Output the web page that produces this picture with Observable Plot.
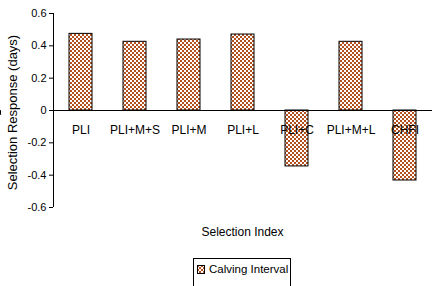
<!DOCTYPE html>
<html>
<head>
<meta charset="utf-8">
<script src="https://cdn.jsdelivr.net/npm/d3@7"></script>
<script src="https://cdn.jsdelivr.net/npm/@observablehq/plot@0.6"></script>
<style>
  body { margin: 0; background: #fff; font-family: "Liberation Sans", Arial, sans-serif; }
  #wrap { position: relative; width: 432px; height: 286px; overflow: hidden; }
  #xtitle { position: absolute; left: 53px; width: 379px; top: 225px; text-align: center; font-size: 12px; color: #000; }
  #legend { position: absolute; left: 193px; top: 258px; width: 98px; height: 30px; border: 1px solid #000; box-sizing: border-box; font-size: 11.5px; }
  #legend svg { position: absolute; left: 3px; top: 6px; }
  #legend span { position: absolute; left: 15px; top: 4px; white-space: nowrap; }
</style>
</head>
<body>
<div id="wrap">
  <div id="chart"></div>
  <div id="xtitle">Selection Index</div>
  <div id="legend"><svg width="8" height="9"><rect x="0.5" y="0.5" width="7" height="8" fill="url(#chkL)" stroke="#000" stroke-width="1"/><defs><pattern id="chkL" patternUnits="userSpaceOnUse" width="4" height="4"><rect width="4" height="4" fill="#fff"/><rect width="2" height="2" fill="#b4501e"/><rect x="2" y="2" width="2" height="2" fill="#b4501e"/></pattern></defs></svg><span>Calving Interval</span></div>
</div>
<script>
const categories = ["PLI", "PLI+M+S", "PLI+M", "PLI+L", "PLI+C", "PLI+M+L", "CHFI"];
const calvingInterval = [0.474, 0.425, 0.439, 0.47, -0.346, 0.425, -0.433];
const yTicks = [-0.6, -0.4, -0.2, 0, 0.2, 0.4, 0.6];
const yTitle = "Selection Response (days)";

const data = categories.map((c, i) => ({category: c, value: calvingInterval[i]}));

function axesLines(index, scales, values, dimensions) {
  const {x, y} = scales;
  const g = d3.create("svg:g").attr("stroke", "#000").attr("stroke-width", 1).attr("fill", "none");
  const left = dimensions.marginLeft;
  const right = dimensions.width - dimensions.marginRight;
  const y0 = Math.round(y(0)) + 0.5;
  g.append("line").attr("x1", left).attr("x2", right).attr("y1", y0).attr("y2", y0);
  g.append("line").attr("x1", left + 0.5).attr("x2", left + 0.5)
    .attr("y1", y(yTicks[yTicks.length - 1])).attr("y2", y(yTicks[0]));
  const step = x(categories[1]) - x(categories[0]);
  for (let i = 1; i < categories.length; i++) {
    const xb = Math.round(x(categories[i]) - (step - x.bandwidth) / 2) + 0.5;
    g.append("line").attr("x1", xb).attr("x2", xb).attr("y1", y0).attr("y2", y0 + 4);
  }
  return g.node();
}

const chart = Plot.plot({
  width: 432,
  height: 212,
  marginTop: 13,
  marginBottom: 5,
  marginLeft: 53,
  marginRight: 0,
  style: {fontFamily: "Liberation Sans, Arial, sans-serif", fontSize: "11px", background: "#fff", overflow: "visible"},
  x: {domain: categories, paddingInner: 0.58, paddingOuter: 0.29, axis: null},
  y: {domain: [-0.6, 0.6]},
  marks: [
    Plot.axisY({
      ticks: yTicks,
      tickSize: 4,
      tickPadding: 3,
      tickFormat: d => d === 0 ? "0" : d.toFixed(1),
      label: null,
      fontSize: 11,
      fill: "#000"
    }),
    Plot.text([yTitle], {frameAnchor: "left", textAnchor: "middle", dx: -41, dy: 2, rotate: -90, text: d => d, fontSize: 13, fill: "#000"}),
    Plot.barY(data, {x: "category", y: "value", fill: "url(#chk)", stroke: "#000", strokeWidth: 1}),
    axesLines,
    Plot.text(categories, {x: d => d, y: () => 0, dy: 20, text: d => d, fontSize: 12, fill: "#000"})
  ]
});

const defs = document.createElementNS("http://www.w3.org/2000/svg", "defs");
defs.innerHTML = '<pattern id="chk" patternUnits="userSpaceOnUse" width="4" height="4"><rect width="4" height="4" fill="#fff"/><rect width="2" height="2" fill="#b4501e"/><rect x="2" y="2" width="2" height="2" fill="#b4501e"/></pattern>';
chart.insertBefore(defs, chart.firstChild);
document.getElementById("chart").appendChild(chart);
</script>
</body>
</html>
